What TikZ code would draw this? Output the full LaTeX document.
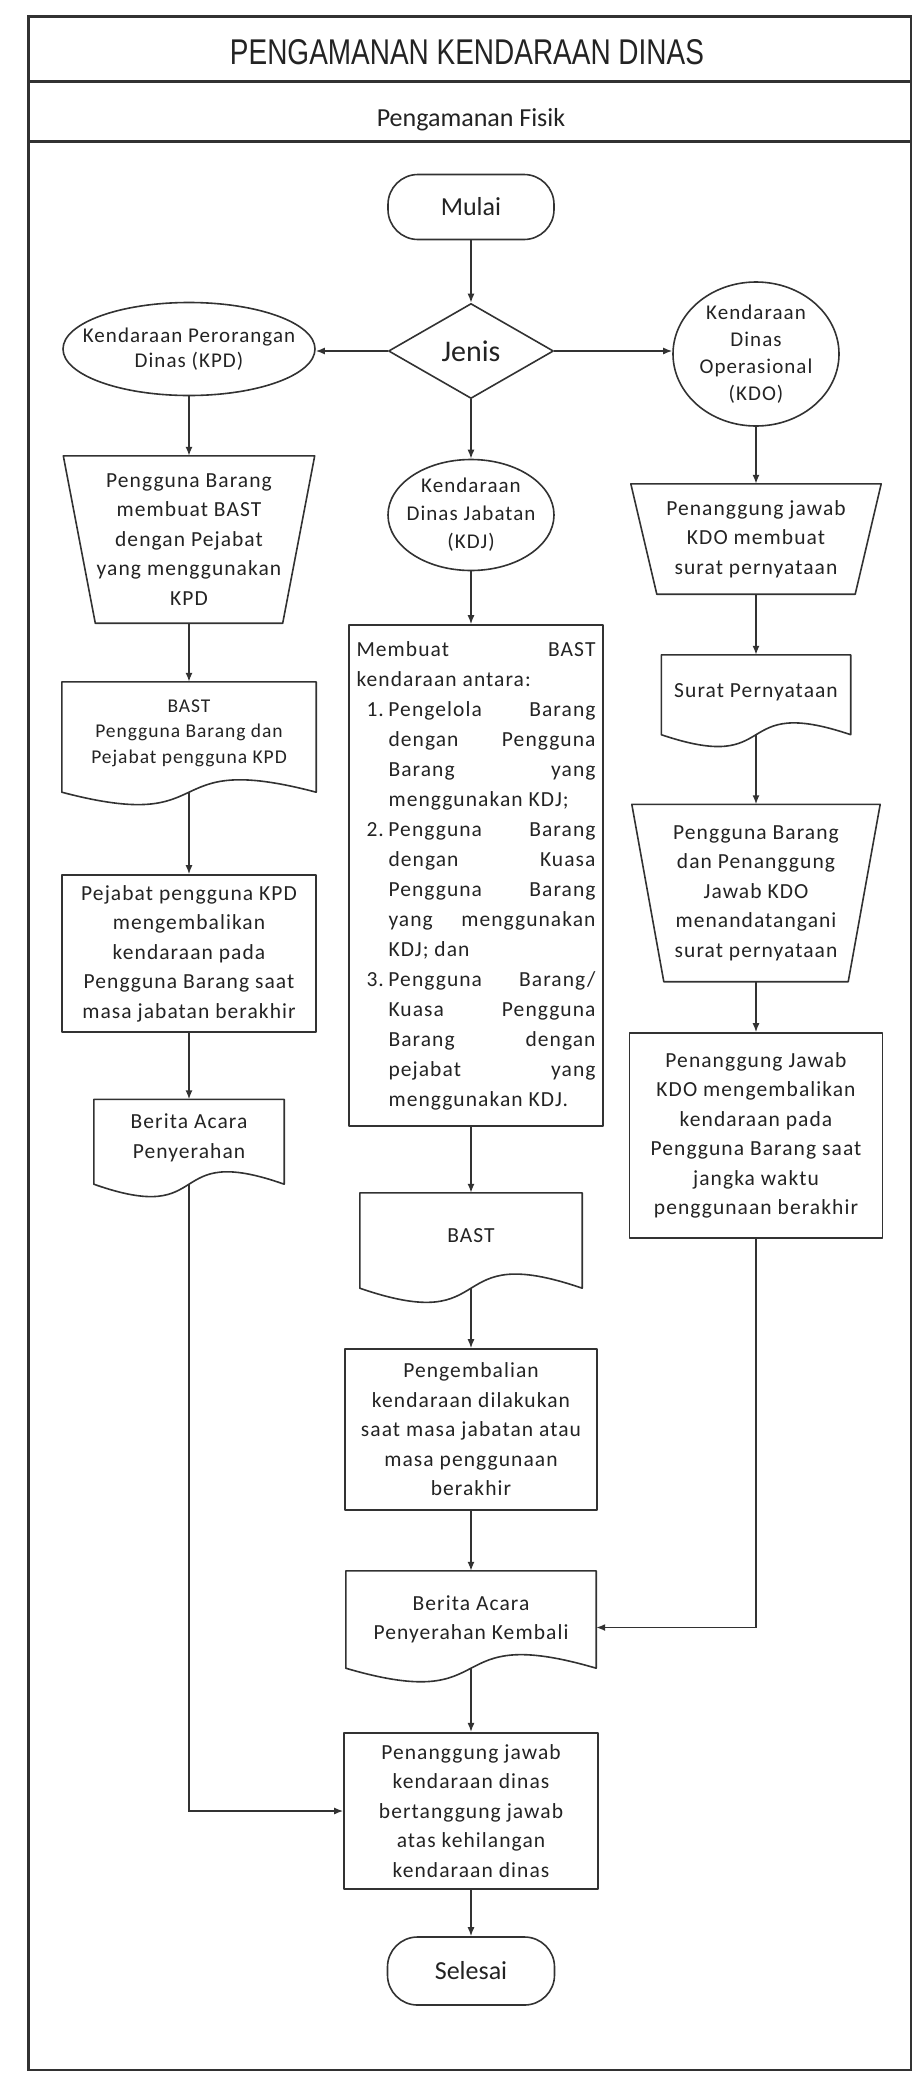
\documentclass[tikz,border=0pt]{standalone}
\usepackage{fontspec}
\usepackage{graphicx}
\setmainfont{Carlito}[LetterSpace=5.0]
\newfontfamily\plainf{Carlito}
\newfontfamily\titlef{Liberation Sans}
\usetikzlibrary{shapes.geometric,arrows.meta,calc}
\definecolor{ink}{RGB}{50,50,50}
\definecolor{txt}{RGB}{35,35,35}
\newcommand\bodyf{\fontsize{21.5}{29.5}\selectfont}
\newcommand\docf{\fontsize{19.5}{25.5}\selectfont}
\newcommand\termf{\plainf\fontsize{26}{30}\selectfont}
\newcommand\jenisf{\plainf\fontsize{30}{34}\selectfont}
\newcommand\trapout[2]{\draw[shp] (#1.north west) -- (#1.north east) -- ($(#1.south east)+(-#2,0)$) -- ($(#1.south west)+(#2,0)$) -- cycle;}
\newcommand\docout[3]{\draw[shp] (#1.north west) -- (#1.north east) -- (#1.south east) .. controls ($(#1.south)+(-0.14*#2,-#3)$) and ($(#1.south)+(0.14*#2,#3)$) .. (#1.south west) -- cycle;}
\tikzset{
  shp/.style={draw=ink, line width=1.6pt, line join=round},
  frame/.style={draw=ink, line width=2.2pt},
  lbl/.style={text=txt, align=center, inner sep=0pt},
  boxn/.style={shp, lbl, rectangle, font=\bodyf},
  ghost/.style={lbl, rectangle, draw=none, font=\bodyf},
  term/.style={shp, lbl, rectangle, rounded corners=30pt, font=\termf},
  ell/.style={shp, lbl, ellipse, inner xsep=-30pt, inner ysep=-6pt},
  dia/.style={shp, lbl, diamond, font=\jenisf},
  arr/.style={draw=ink, line width=1.5pt, -{Latex[length=9pt,width=7pt]}},
}
\begin{document}
\begin{tikzpicture}[x=1pt, y=-1pt]
\useasboundingbox (0,0) rectangle (918,2077);
% frame
\draw[frame] (28.5,16.5) rectangle (911,2070);
\draw[frame] (28.5,81.5) -- (911,81.5);
\draw[frame] (28.5,141.5) -- (911,141.5);
\node[lbl, anchor=base] (title) at (467,64.5) {\resizebox{474pt}{25pt}{\titlef PENGAMANAN KENDARAAN DINAS}};
\node[lbl, anchor=base, font=\termf] (sub) at (471,126.5) {Pengamanan Fisik};

% middle column
\node[term, minimum width=166pt, minimum height=65pt] (mulai) at (471,207) {Mulai};
\node[dia, minimum width=165pt, minimum height=95pt] (jenis) at (471,351) {Jenis};
\node[ell, minimum width=166pt, minimum height=111pt, font=\fontsize{21}{28}\selectfont] (kdj) at (471,515) {Kendaraan\\Dinas Jabatan\\(KDJ)};
\node[boxn, minimum width=254pt, minimum height=501pt] (membuat) at (476,875.5) {\vbox{\hsize=239pt \baselineskip=30pt
\hbox to\hsize{Membuat\hfill BAST}
\hbox to\hsize{kendaraan antara:\hfill}
\hbox to\hsize{\hspace{10pt}\makebox[22pt][l]{1.}Pengelola\hfill Barang}
\hbox to\hsize{\hspace{32pt}dengan\hfill Pengguna}
\hbox to\hsize{\hspace{32pt}Barang\hfill yang}
\hbox to\hsize{\hspace{32pt}menggunakan KDJ;\hfill}
\hbox to\hsize{\hspace{10pt}\makebox[22pt][l]{2.}Pengguna\hfill Barang}
\hbox to\hsize{\hspace{32pt}dengan\hfill Kuasa}
\hbox to\hsize{\hspace{32pt}Pengguna\hfill Barang}
\hbox to\hsize{\hspace{32pt}yang\hfill menggunakan}
\hbox to\hsize{\hspace{32pt}KDJ; dan\hfill}
\hbox to\hsize{\hspace{10pt}\makebox[22pt][l]{3.}Pengguna\hfill Barang/}
\hbox to\hsize{\hspace{32pt}Kuasa\hfill Pengguna}
\hbox to\hsize{\hspace{32pt}Barang\hfill dengan}
\hbox to\hsize{\hspace{32pt}pejabat\hfill yang}
\hbox to\hsize{\hspace{32pt}menggunakan KDJ.\hfill}}};
\node[ghost, minimum width=222pt, minimum height=95pt, text depth=10pt] (bastM) at (471,1240.5) {BAST};
\docout{bastM}{222}{49}
\node[boxn, minimum width=252pt, minimum height=161pt] (kembaliproc) at (471,1429.5) {Pengembalian\\kendaraan dilakukan\\saat masa jabatan atau\\masa penggunaan\\berakhir};
\node[ghost, minimum width=250pt, minimum height=97pt] (kembali) at (471,1619.5) {Berita Acara\\Penyerahan Kembali};
\docout{kembali}{250}{47}
\node[boxn, minimum width=254pt, minimum height=156.5pt] (final) at (471,1811) {Penanggung jawab\\kendaraan dinas\\bertanggung jawab\\atas kehilangan\\kendaraan dinas};
\node[term, minimum width=167pt, minimum height=68pt] (selesai) at (471,1971) {Selesai};

% left column
\node[ell, minimum width=252pt, minimum height=93pt, font=\fontsize{21}{25}\selectfont] (kpd) at (189,349) {Kendaraan Perorangan\\Dinas (KPD)};
\node[ghost, minimum width=251pt, minimum height=167pt] (trapKPD) at (189,539.5) {Pengguna Barang\\membuat BAST\\dengan Pejabat\\yang menggunakan\\KPD};
\trapout{trapKPD}{32}
\node[ghost, minimum width=254pt, minimum height=110pt, font=\docf, text depth=11pt] (bastL) at (189,737) {BAST\\Pengguna Barang dan\\Pejabat pengguna KPD};
\docout{bastL}{254}{43}
\node[boxn, minimum width=254pt, minimum height=157pt] (pejabat) at (189,953.5) {Pejabat pengguna KPD\\mengembalikan\\kendaraan pada\\Pengguna Barang saat\\masa jabatan berakhir};
\node[ghost, minimum width=190pt, minimum height=84.5pt, text depth=11pt] (beritaL) at (189,1141.75) {Berita Acara\\Penyerahan};
\docout{beritaL}{190}{43}

% right column
\node[ell, minimum width=166pt, minimum height=144pt, font=\fontsize{21}{27}\selectfont] (kdo) at (756,354) {Kendaraan\\Dinas\\Operasional\\(KDO)};
\node[ghost, minimum width=250pt, minimum height=110pt] (trapKDO) at (756,539) {Penanggung jawab\\KDO membuat\\surat pernyataan};
\trapout{trapKDO}{26}
\node[ghost, minimum width=189pt, minimum height=79.5pt, text depth=9pt] (surat) at (756,694.75) {Surat Pernyataan};
\docout{surat}{189}{41}
\node[ghost, minimum width=248pt, minimum height=177pt] (pengguna) at (756,893) {Pengguna Barang\\dan Penanggung\\Jawab KDO\\menandatangani\\surat pernyataan};
\trapout{pengguna}{32}
\node[boxn, minimum width=253pt, minimum height=205pt] (kdobox) at (756,1135.5) {Penanggung Jawab\\KDO mengembalikan\\kendaraan pada\\Pengguna Barang saat\\jangka waktu\\penggunaan berakhir};

% connectors
\draw[arr] (mulai.south) -- (jenis.north);
\draw[arr] (jenis.west) -- (jenis.west -| kpd.east);
\draw[arr] (jenis.east) -- (jenis.east -| kdo.west);
\draw[arr] (jenis.south) -- (kdj.north);
\draw[arr] (kpd.south) -- (trapKPD.north);
\draw[arr] (trapKPD.south) -- (bastL.north);
\draw[arr] (bastL.south) -- (pejabat.north);
\draw[arr] (pejabat.south) -- (beritaL.north);
\draw[arr] (beritaL.south) |- (final.west);
\draw[arr] (kdo.south) -- (trapKDO.north);
\draw[arr] (trapKDO.south) -- (surat.north);
\draw[arr] (surat.south) -- (pengguna.north);
\draw[arr] (pengguna.south) -- (kdobox.north);
\draw[arr] (kdobox.south) |- ([yshift=-8pt]kembali.east);
\draw[arr] (kdj.south) -- (kdj.south |- membuat.north);
\draw[arr] (bastM.north |- membuat.south) -- (bastM.north);
\draw[arr] (bastM.south) -- (kembaliproc.north);
\draw[arr] (kembaliproc.south) -- (kembali.north);
\draw[arr] (kembali.south) -- (final.north);
\draw[arr] (final.south) -- (selesai.north);
\end{tikzpicture}
\end{document}
